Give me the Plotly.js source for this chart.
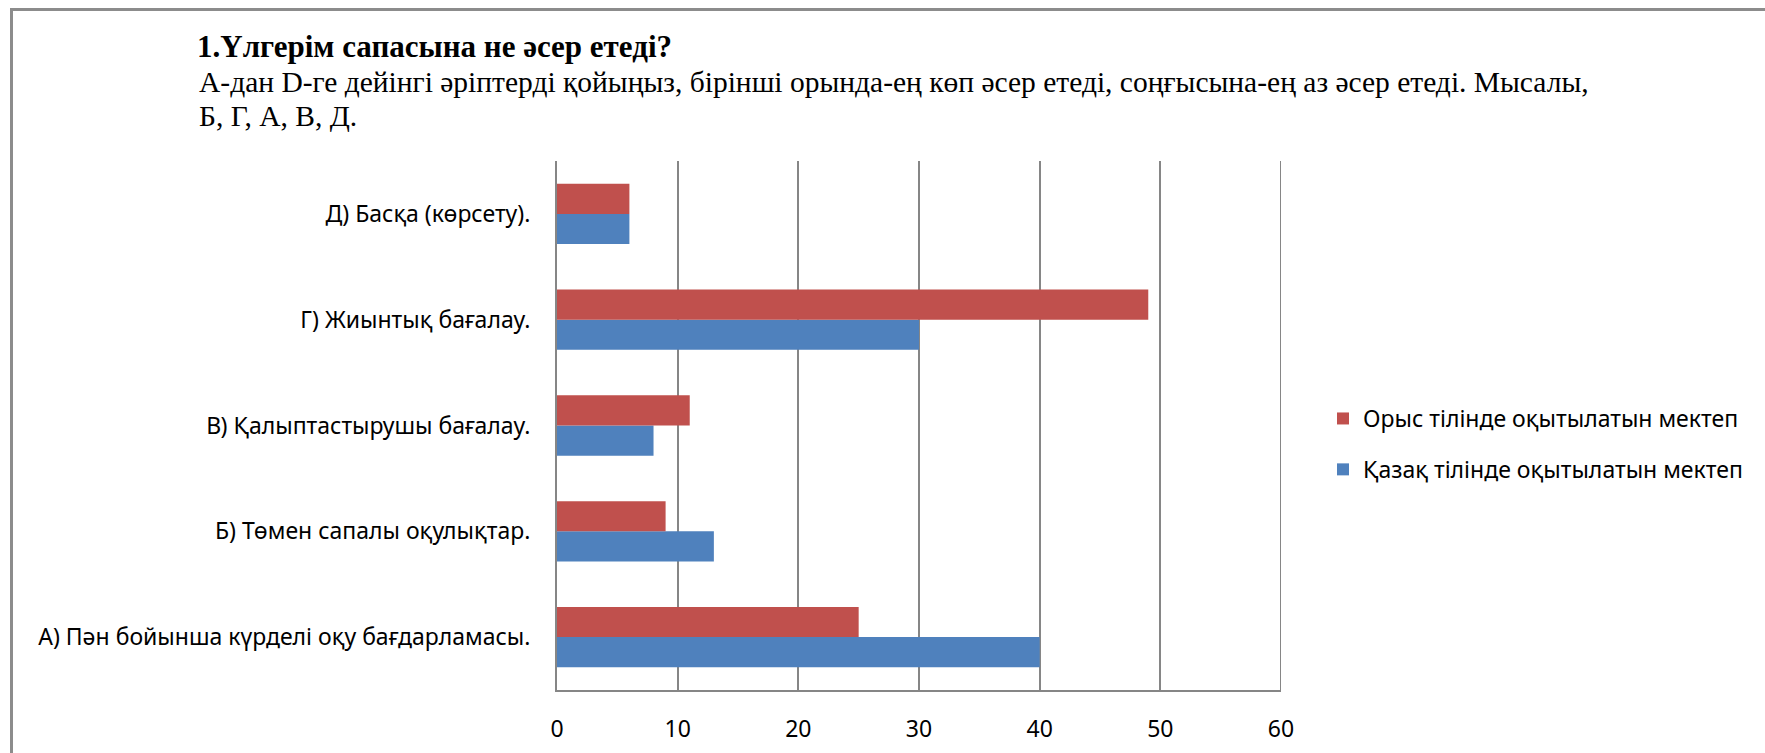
<!DOCTYPE html>
<html>
<head>
<meta charset="utf-8">
<script src="https://cdn.plot.ly/plotly-3.0.1.min.js"></script>
<style>
  html, body { margin: 0; padding: 0; background: #fff; }
  #wrap { position: relative; width: 1765px; height: 753px; overflow: hidden; }
  #chart { position: absolute; left: 0; top: 0; width: 1765px; height: 753px; }
  #frame { position: absolute; left: 10px; top: 8px; width: 1800px; height: 800px;
           border-left: 3px solid #8c8c8c; border-top: 3px solid #8c8c8c; pointer-events: none; }
</style>
</head>
<body>
<div id="wrap">
  <div id="chart"></div>
  <div id="frame"></div>
</div>
<script>
const categories = [
  "А) Пән бойынша күрделі оқу бағдарламасы.",
  "Б) Төмен сапалы оқулықтар.",
  "В) Қалыптастырушы бағалау.",
  "Г) Жиынтық бағалау.",
  "Д) Басқа (көрсету)."
];
const seriesKazakhName = "Қазақ тілінде оқытылатын мектеп";
const seriesRussianName = "Орыс тілінде оқытылатын мектеп";
const kazakhValues = [40, 13, 8, 30, 6];
const russianValues = [25, 9, 11, 49, 6];
const xTickValues = [0, 10, 20, 30, 40, 50, 60];

const titleLine1 = "1.Үлгерім сапасына не әсер етеді?";
const titleLine2 = "А-дан D-ге дейінгі әріптерді қойыңыз, бірінші орында-ең көп әсер етеді, соңғысына-ең аз әсер етеді. Мысалы,";
const titleLine3 = "Б, Г, А, В, Д.";

const labelFont = { family: "Noto Sans, Open Sans, sans-serif", size: 23, color: "#000" };
const serif = "Liberation Serif, Times New Roman, serif";

// plot area geometry (pixels) for placing the paper-referenced subtitle lines
const plotLeft = 557, plotWidth = 724, plotBottom = 690, plotHeight = 529;
const px2x = p => (p - plotLeft) / plotWidth;
const px2y = p => (plotBottom - p) / plotHeight;

const xMax = xTickValues[xTickValues.length - 1];

const traces = [
  {
    type: "bar", orientation: "h", name: seriesKazakhName,
    y: categories, x: kazakhValues, legendgroup: "kz", legendrank: 2,
    marker: { color: "#4F81BD", line: { width: 0 } }
  },
  {
    type: "bar", orientation: "h", name: seriesRussianName,
    y: categories, x: russianValues, legendgroup: "ru", legendrank: 1,
    marker: { color: "#C0504D", line: { width: 0 } }
  }
];

const layout = {
  width: 1765, height: 753,
  paper_bgcolor: "#fff", plot_bgcolor: "#fff",
  margin: { l: 557, r: 484, t: 161, b: 63, pad: 0 },
  barmode: "group",
  bargap: 0.43, bargroupgap: 0,
  showlegend: true,
  title: {
    text: "<b>" + titleLine1 + "</b>",
    font: { family: serif, size: 31, color: "#000" },
    xref: "container", yref: "container",
    x: 197 / 1765, xanchor: "left",
    y: 1 - 46 / 753, yanchor: "middle"
  },
  annotations: [
    { text: titleLine2, xref: "paper", yref: "paper", x: px2x(197), y: px2y(82),
      xanchor: "left", yanchor: "middle", showarrow: false, align: "left",
      font: { family: serif, size: 29.5, color: "#000" } },
    { text: titleLine3, xref: "paper", yref: "paper", x: px2x(197), y: px2y(116),
      xanchor: "left", yanchor: "middle", showarrow: false, align: "left",
      font: { family: serif, size: 29.5, color: "#000" } }
  ],
  shapes: [
    { type: "line", xref: "x", yref: "paper", x0: xMax, x1: xMax, y0: 0, y1: 1,
      line: { color: "#868686", width: 2 }, layer: "below" }
  ],
  xaxis: {
    range: [0, xMax], tickvals: xTickValues, ticktext: xTickValues.map(String),
    showgrid: true, gridcolor: "#868686", gridwidth: 2,
    showline: true, linecolor: "#868686", linewidth: 2,
    zeroline: false,
    ticks: "outside", ticklen: 17, tickcolor: "rgba(0,0,0,0)",
    tickfont: labelFont, fixedrange: true
  },
  yaxis: {
    type: "category",
    showgrid: false,
    showline: true, linecolor: "#868686", linewidth: 2,
    ticks: "outside", ticklen: 20, tickcolor: "rgba(0,0,0,0)",
    tickfont: labelFont, fixedrange: true
  },
  legend: {
    x: 1.058, xanchor: "left", y: 0.465, yanchor: "middle",
    traceorder: "grouped", tracegroupgap: 18,
    font: labelFont, bgcolor: "rgba(0,0,0,0)", itemwidth: 30
  }
};

Plotly.newPlot("chart", traces, layout, { displayModeBar: false, staticPlot: true });
</script>
</body>
</html>
